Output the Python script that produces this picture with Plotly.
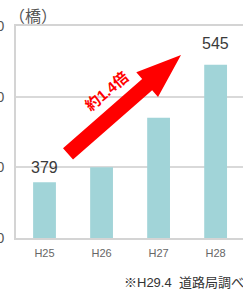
import plotly.graph_objects as go
import math

categories = ["H25", "H26", "H27", "H28"]
values = [379, 400, 470, 545]
labeled = {0: "379", 3: "545"}
y_ticks = [300, 400, 500, 600]
unit_label = "（橋）"
note = "※H29.4  道路局調べ"
growth_text = "約1.4倍"

W, H = 243, 291
ML, MR, MT, MB = 16, 0, 26, 53
XR = [-0.5, 3.48]
YR = [300, 600]
PW, PH = W - ML - MR, H - MT - MB

def to_px(x, y):
    px = ML + (x - XR[0]) / (XR[1] - XR[0]) * PW
    py = MT + PH - (y - YR[0]) / (YR[1] - YR[0]) * PH
    return px, py

def to_paper(px, py):
    return (px - ML) / PW, (MT + PH - py) / PH

JP = "Liberation Sans, Arial, Noto Sans CJK JP, sans-serif"

fig = go.Figure()
fig.add_trace(go.Bar(
    x=list(range(len(categories))), y=values, width=0.40,
    marker=dict(color="#a1d4d8", line=dict(width=0)),
    hoverinfo="skip",
))

annotations = []
shift = {0: 15, 3: 21}
for i, t in labeled.items():
    annotations.append(dict(x=i, y=values[i], xref="x", yref="y", text=t,
                            showarrow=False, yanchor="middle", yshift=shift[i],
                            font=dict(size=16, color="#3a3a3a", family=JP)))

# arrow built from data-space endpoints
tail = (0.412, 419)
tip = (2.393, 559)
tx, ty = to_px(*tail)
px_, py_ = to_px(*tip)
dx, dy = px_ - tx, py_ - ty
L = math.hypot(dx, dy)
ux, uy = dx / L, dy / L
nx, ny = -uy, ux
sw, hw, hl = 7.6, 16.5, 45
bx, by = px_ - hl * ux, py_ - hl * uy
pts = [
    (tx + sw * nx, ty + sw * ny),
    (bx + sw * nx, by + sw * ny),
    (bx + hw * nx, by + hw * ny),
    (px_, py_),
    (bx - hw * nx, by - hw * ny),
    (bx - sw * nx, by - sw * ny),
    (tx - sw * nx, ty - sw * ny),
]
path = "M " + " L ".join(f"{a:.4f},{b:.4f}" for a, b in (to_paper(*p) for p in pts)) + " Z"

annotations.append(dict(x=1.078, y=508, xref="x", yref="y", text="<b>" + growth_text + "</b>",
                        showarrow=False, textangle=-40,
                        font=dict(size=15, color="#ff0000", family=JP)))
annotations.append(dict(x=-ML / PW + 7 / PW, y=(MT - 15) / PH + 1, xref="paper", yref="paper",
                        text=unit_label, showarrow=False, xanchor="left", yanchor="middle",
                        font=dict(size=16, color="#555555", family="Noto Sans CJK JP")))
annotations.append(dict(x=1 + 3 / PW, y=-(282 - MT - PH) / PH, xref="paper", yref="paper",
                        text=note, showarrow=False, xanchor="right", yanchor="middle",
                        font=dict(size=13, color="#333333", family=JP)))

fig.update_layout(
    width=W, height=H,
    margin=dict(l=ML, r=MR, t=MT, b=MB, pad=0, autoexpand=False),
    paper_bgcolor="white", plot_bgcolor="white",
    showlegend=False,
    annotations=annotations,
    shapes=[dict(type="path", path=path, xref="paper", yref="paper",
                 fillcolor="#ff0000", line=dict(width=0), layer="above")],
    xaxis=dict(range=XR, tickmode="array", tickvals=list(range(len(categories))),
               ticktext=categories, showgrid=False, zeroline=False, automargin=False,
               showline=True, linecolor="#d4d4d4", linewidth=2, mirror=True,
               ticks="", ticklabelstandoff=4,
               tickfont=dict(size=11, color="#666666", family=JP)),
    yaxis=dict(range=YR, tickmode="array", tickvals=y_ticks,
               ticktext=[str(v) for v in y_ticks], automargin=False,
               showgrid=True, gridcolor="#d9d9d9", gridwidth=1.5, zeroline=False,
               showline=True, linecolor="#d4d4d4", linewidth=2,
               ticks="", ticklabelstandoff=7,
               tickfont=dict(size=14, color="#555555", family=JP)),
)

fig.write_html("out.html", config={"displayModeBar": False},
               post_script="document.body.style.margin='0';")
